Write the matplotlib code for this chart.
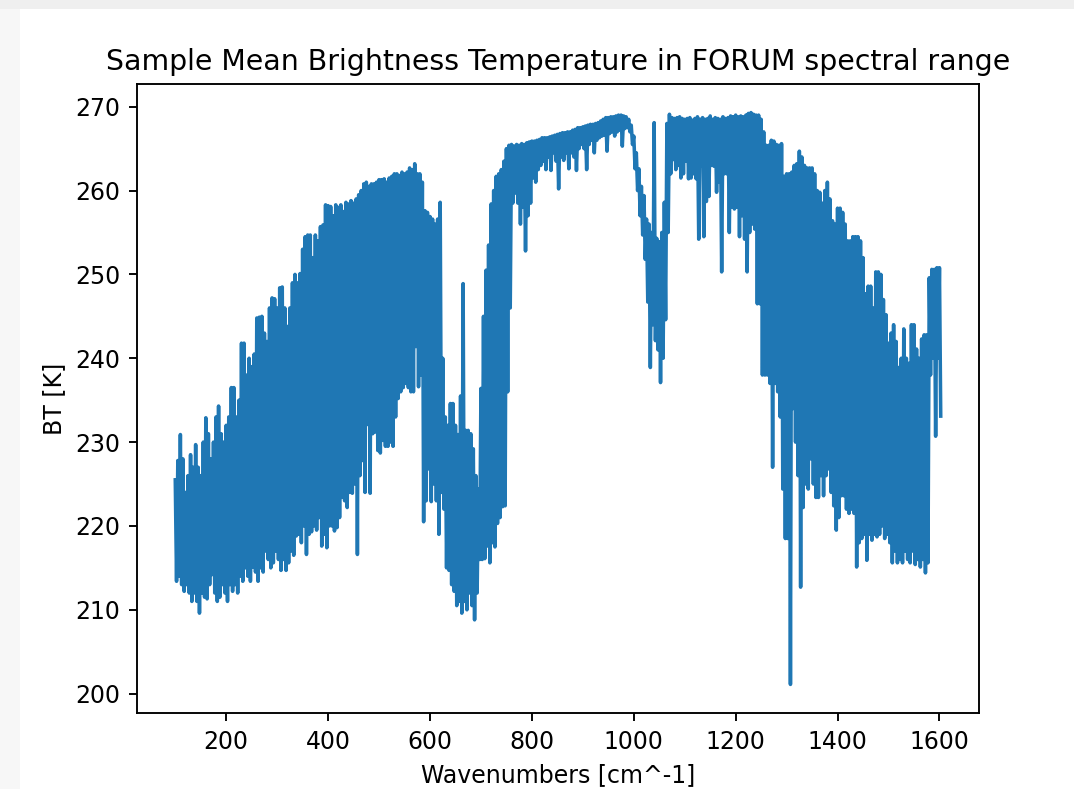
import numpy as np
import matplotlib
matplotlib.use("Agg")
import matplotlib.pyplot as plt
from matplotlib.patches import Rectangle

# Spectral grid (cm^-1): 100 ... 1600, every 5 cm^-1.
# For each grid cell the dense spectrum swings between an upper and a lower
# brightness temperature [K]; both are read from the reference picture.
wn_start = 100
wn_step = 5

upper_100 = [225.5, 227.8, 230.9, 228.0, 224.0, 226.0, 228.5, 227.0, 229.7, 227.0,
             226.0, 230.0, 232.9, 231.0, 228.0, 230.0, 233.0, 234.3, 231.0, 230.0]
lower_100 = [213.4, 214.0, 213.0, 212.2, 213.0, 212.0, 211.0, 212.0, 211.0, 209.6,
             212.0, 211.5, 211.3, 213.0, 214.2, 212.0, 211.0, 211.5, 213.0, 212.0]

upper_200 = [232.0, 233.0, 236.5, 236.5, 233.0, 235.0, 241.8, 241.8, 238.0, 240.0,
             239.0, 240.5, 244.8, 244.9, 245.0, 243.0, 242.0, 246.0, 247.2, 247.1]
lower_200 = [211.0, 213.0, 212.2, 213.0, 212.0, 214.0, 213.4, 215.0, 214.0, 213.4,
             215.1, 214.5, 213.4, 215.0, 214.5, 217.0, 216.0, 215.0, 215.6, 217.0]

upper_300 = [246.0, 248.4, 248.5, 246.0, 243.8, 246.0, 249.0, 250.0, 249.0, 250.1,
             253.0, 254.5, 254.7, 254.7, 252.0, 254.7, 254.0, 255.7, 255.9, 258.3]
lower_300 = [216.0, 214.7, 216.0, 214.7, 215.6, 217.0, 216.5, 218.8, 219.0, 218.0,
             220.0, 216.6, 219.0, 219.3, 220.0, 219.5, 221.0, 217.6, 219.0, 217.4]

upper_400 = [258.2, 258.1, 257.0, 258.3, 258.0, 258.3, 257.5, 258.6, 258.4, 258.8,
             258.5, 259.0, 259.5, 260.0, 260.8, 261.0, 260.5, 260.8, 260.8, 261.0]
lower_400 = [220.0, 220.0, 219.4, 219.8, 221.0, 223.4, 223.0, 222.2, 224.0, 223.9,
             225.0, 216.6, 226.0, 227.8, 224.0, 232.1, 223.9, 231.0, 231.2, 229.0]

upper_500 = [261.3, 261.3, 261.4, 261.0, 261.5, 261.7, 262.0, 262.0, 261.8, 262.2,
             262.0, 262.2, 262.7, 262.5, 263.2, 262.0, 262.0, 261.0, 257.6, 257.4]
lower_500 = [228.7, 230.2, 229.5, 229.5, 230.0, 229.5, 233.0, 235.2, 236.0, 236.5,
             237.0, 236.5, 236.0, 236.0, 241.4, 236.6, 238.0, 220.5, 223.0, 226.8]

upper_600 = [256.9, 256.6, 256.0, 256.6, 258.6, 240.0, 233.0, 232.0, 234.6, 234.6,
             232.0, 230.9, 235.5, 248.9, 231.4, 231.4, 231.0, 229.2, 226.0, 224.4]
lower_600 = [222.9, 225.0, 223.0, 219.0, 224.0, 222.0, 215.0, 214.7, 213.0, 212.2,
             210.5, 211.0, 209.6, 211.0, 210.0, 212.0, 210.5, 208.8, 212.0, 216.0]

upper_700 = [236.4, 245.0, 250.5, 253.5, 258.4, 260.0, 261.7, 262.0, 262.5, 263.5,
             265.0, 265.4, 265.5, 265.3, 265.5, 265.4, 265.6, 265.5, 265.7, 265.8]
lower_700 = [216.0, 216.1, 217.6, 215.6, 218.0, 217.5, 220.3, 221.0, 222.3, 222.4,
             236.0, 246.0, 258.5, 259.7, 258.5, 256.0, 258.0, 252.8, 257.0, 258.5]

upper_800 = [265.9, 265.9, 266.0, 266.1, 266.3, 266.3, 266.3, 266.4, 266.5, 266.6,
             266.7, 266.8, 266.9, 266.9, 267.0, 267.0, 267.2, 267.3, 267.5, 267.5]
lower_800 = [261.5, 261.0, 262.5, 263.0, 263.5, 262.5, 264.0, 262.4, 264.5, 263.5,
             260.2, 264.0, 263.6, 264.5, 262.6, 264.5, 264.0, 262.4, 265.0, 265.5]

upper_900 = [267.6, 267.7, 267.8, 267.9, 267.9, 268.0, 268.1, 268.3, 268.5, 268.7,
             268.7, 268.8, 268.8, 268.9, 269.0, 269.0, 268.9, 268.8, 268.5, 267.8]
lower_900 = [265.0, 262.5, 265.5, 266.0, 264.5, 266.0, 266.3, 266.5, 266.6, 264.7,
             266.8, 267.0, 266.5, 267.0, 267.2, 265.3, 267.4, 267.5, 267.0, 265.5]

upper_1000 = [266.5, 264.5, 262.6, 260.5, 259.4, 256.6, 256.0, 255.0, 268.1, 254.3,
              253.9, 255.0, 258.6, 268.0, 269.1, 268.7, 268.6, 268.7, 268.8, 268.6]
lower_1000 = [262.6, 260.0, 257.0, 254.7, 251.8, 246.7, 238.9, 244.0, 242.1, 241.0,
              237.1, 240.0, 244.6, 255.0, 262.0, 263.7, 262.5, 263.0, 261.5, 262.0]

upper_1100 = [268.5, 268.6, 268.7, 268.4, 268.6, 268.8, 268.5, 268.7, 268.5, 268.6,
              268.9, 268.5, 268.7, 268.6, 268.5, 268.8, 268.6, 268.7, 268.9, 268.8]
lower_1100 = [263.5, 261.4, 261.5, 262.0, 261.4, 254.2, 263.0, 254.5, 258.7, 259.3,
              263.0, 262.9, 259.8, 261.0, 250.3, 262.0, 262.0, 255.0, 258.0, 257.8]

upper_1200 = [269.0, 268.8, 268.9, 268.8, 269.0, 269.2, 269.3, 269.1, 269.0, 269.0,
              268.5, 267.0, 265.4, 265.4, 266.0, 265.9, 265.5, 265.4, 265.6, 261.7]
lower_1200 = [258.0, 254.5, 257.0, 254.2, 250.3, 255.0, 256.0, 255.4, 246.5, 246.5,
              238.0, 238.0, 238.0, 237.0, 227.0, 237.0, 236.0, 233.0, 224.4, 218.5]

upper_1300 = [262.0, 262.0, 262.2, 263.0, 263.2, 264.7, 264.0, 263.0, 262.7, 262.7,
              262.7, 262.0, 260.0, 259.8, 258.5, 260.0, 261.0, 259.0, 256.4, 256.0]
lower_1300 = [218.5, 201.1, 234.0, 230.0, 226.0, 212.7, 222.2, 225.0, 224.4, 228.0,
              225.0, 223.4, 223.4, 226.0, 223.6, 226.0, 226.8, 224.0, 222.4, 219.5]

upper_1400 = [257.9, 257.9, 257.4, 256.0, 254.0, 254.0, 254.5, 254.5, 254.5, 254.0,
              252.0, 247.7, 248.6, 248.6, 246.0, 250.3, 250.3, 250.0, 247.0, 245.2]
lower_1400 = [221.0, 223.6, 223.6, 222.0, 221.5, 222.0, 221.5, 215.1, 218.0, 218.5,
              219.0, 215.9, 219.0, 218.3, 219.0, 218.7, 219.0, 220.0, 218.5, 219.0]

upper_1500 = [241.8, 243.0, 244.0, 242.0, 238.9, 240.0, 243.5, 240.0, 239.4, 244.0,
              244.0, 241.1, 240.0, 242.3, 242.8, 242.8, 249.6, 250.6, 250.6, 250.8,
              250.8]
lower_1500 = [218.0, 215.6, 217.0, 215.6, 216.0, 215.6, 217.0, 216.0, 215.6, 217.0,
              215.4, 216.0, 215.1, 216.0, 214.4, 215.6, 238.0, 240.0, 230.7, 240.0,
              233.1]

upper = np.array(upper_100 + upper_200 + upper_300 + upper_400 + upper_500 +
                 upper_600 + upper_700 + upper_800 + upper_900 + upper_1000 +
                 upper_1100 + upper_1200 + upper_1300 + upper_1400 + upper_1500)
lower = np.array(lower_100 + lower_200 + lower_300 + lower_400 + lower_500 +
                 lower_600 + lower_700 + lower_800 + lower_900 + lower_1000 +
                 lower_1100 + lower_1200 + lower_1300 + lower_1400 + lower_1500)

# interleave: the spectrum swings upper -> lower within every grid cell
bt = np.empty(2 * len(upper))
bt[0::2] = upper
bt[1::2] = lower
wavenumbers = wn_start + (wn_step / 2) * np.arange(len(bt))

DPI = 170
W, H = 1074, 789
fig = plt.figure(figsize=(W / DPI, H / DPI), dpi=DPI)

# screenshot frame (light grey strips at the top and left)
fig.patches.append(Rectangle((0, 1 - 9 / H), 1, 9 / H, transform=fig.transFigure,
                             facecolor="#efefef", edgecolor="none", zorder=-10))
fig.patches.append(Rectangle((0, 0), 20 / W, 1 - 9 / H, transform=fig.transFigure,
                             facecolor="#f7f7f7", edgecolor="none", zorder=-10))

ax = fig.add_axes([137 / W, 1 - 713 / H, (979 - 137) / W, (713 - 84) / H])
ax.plot(wavenumbers, bt, color="#1f77b4", linewidth=1.5)
ax.set_title("Sample Mean Brightness Temperature in FORUM spectral range")
ax.set_xlabel("Wavenumbers [cm^-1]")
ax.set_ylabel("BT [K]")
ax.set_xticks([200, 400, 600, 800, 1000, 1200, 1400, 1600])
ax.set_yticks([200, 210, 220, 230, 240, 250, 260, 270])

fig.savefig("out.png", dpi=DPI)
